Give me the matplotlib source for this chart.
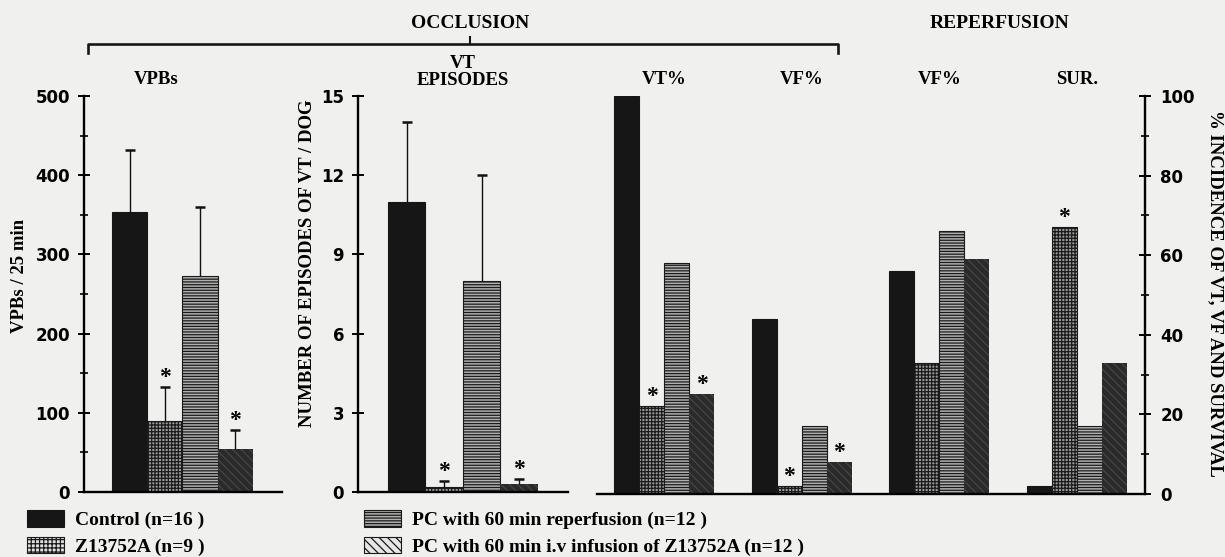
import matplotlib
matplotlib.use("Agg")
import matplotlib.pyplot as plt
import numpy as np
from matplotlib.patches import Patch
from matplotlib.lines import Line2D
from matplotlib.ticker import MultipleLocator
import matplotlib.transforms as mtransforms

# treatment groups
treatments = ["Control (n=16 )", "Z13752A (n=9 )",
              "PC with 60 min reperfusion (n=12 )",
              "PC with 60 min i.v infusion of Z13752A (n=12 )"]

# occlusion: ventricular premature beats per 25 min (mean, sem)
vpb_mean = [353, 90, 273, 54]
vpb_sem = [79, 42, 87, 24]
vpb_sig = [False, True, False, True]

# occlusion: VT episodes per dog (mean, sem)
vt_ep_mean = [11.0, 0.2, 8.0, 0.3]
vt_ep_sem = [3.0, 0.2, 4.0, 0.2]
vt_ep_sig = [False, True, False, True]

# % incidence: VT%, VF% (occlusion), VF% (reperfusion), survival
incidence_labels = ["VT%", "VF%", "VF%", "SUR."]
inc_control = [100, 44, 56, 2]
inc_z13752a = [22, 2, 33, 67]
inc_pc_rep = [58, 17, 66, 17]
inc_pc_inf = [25, 8, 59, 33]
inc_sig = [[False, True, False, True],
           [False, True, False, True],
           [False, False, False, False],
           [False, True, False, False]]

SERIF = "Liberation Serif"
PAPER = "#f0f0ee"
INK = "#161616"

plt.rcParams["font.family"] = "DejaVu Sans"
plt.rcParams["font.weight"] = "bold"
plt.rcParams["hatch.linewidth"] = 0.9
plt.rcParams["axes.linewidth"] = 1.7

styles = [
    dict(facecolor=INK, edgecolor=INK, hatch=None, linewidth=0.8),
    dict(facecolor="#9a9a9a", edgecolor="#1a1a1a", hatch="+++++", linewidth=0.8),
    dict(facecolor="#b0b0b0", edgecolor="#1a1a1a", hatch="------", linewidth=0.8),
    dict(facecolor="#2a2a2a", edgecolor="#454545", hatch="\\\\\\\\", linewidth=0.0),
]
# the legend key for the infusion group shows its diagonal shading plainly
legend_styles = [
    styles[0],
    dict(facecolor="#e0e0e0", edgecolor="#1a1a1a", hatch="++++", linewidth=0.8),
    dict(facecolor="#b0b0b0", edgecolor="#1a1a1a", hatch="------", linewidth=0.8),
    dict(facecolor="#e6e6e6", edgecolor="#1a1a1a", hatch="\\\\\\\\", linewidth=0.8),
]

fig = plt.figure(figsize=(12.25, 5.57), dpi=100, facecolor=PAPER)

ax1 = fig.add_axes([0.06857, 0.11670, 0.16163, 0.71095])
ax2 = fig.add_axes([0.29224, 0.11670, 0.17143, 0.71095])
ax3 = fig.add_axes([0.48735, 0.11311, 0.44735, 0.71454])
for ax in (ax1, ax2, ax3):
    ax.set_facecolor("none")
    ax.spines["top"].set_visible(False)


def star(ax, x, y):
    ax.annotate("*", (x, y), xytext=(0, 3), textcoords="offset points",
                ha="center", va="baseline", fontsize=17,
                family=SERIF, fontweight="bold")


def mean_panel(ax, means, sems, sig):
    x = np.arange(len(means))
    tops = np.add(means, sems)
    for i in x:
        ax.bar(i, means[i], width=1.0, **styles[i])
    # upper error bars only
    ax.vlines(x, means, tops, color="#111111", lw=1.0, zorder=3)
    ax.plot(x, tops, ls="none", marker="_", ms=7.5, mew=1.8, color="#111111",
            zorder=3)
    for i in x:
        if sig[i]:
            star(ax, i, tops[i])
    ax.spines["right"].set_visible(False)
    ax.tick_params(axis="y", direction="inout", length=8, width=1.4,
                   labelsize=12, pad=6)
    ax.tick_params(axis="y", which="minor", direction="inout", length=6, width=1.2)
    ax.set_xticks([])


# VPBs panel
mean_panel(ax1, vpb_mean, vpb_sem, vpb_sig)
ax1.set_xlim(-1.29, 4.32)
ax1.set_ylim(0, 500)
ax1.yaxis.set_major_locator(MultipleLocator(100))
ax1.yaxis.set_minor_locator(MultipleLocator(50))

# VT episodes panel
mean_panel(ax2, vt_ep_mean, vt_ep_sem, vt_ep_sig)
ax2.set_xlim(-1.3, 4.3)
ax2.set_ylim(0, 15)
ax2.yaxis.set_major_locator(MultipleLocator(3))

# incidence panel
incidence = [inc_control, inc_z13752a, inc_pc_rep, inc_pc_inf]
centers = np.arange(len(incidence_labels)) * 5.5
for j in range(4):
    xs = centers + (j - 1.5)
    ax3.bar(xs, incidence[j], width=1.0, **styles[j])
    for g in range(len(incidence_labels)):
        if inc_sig[g][j]:
            star(ax3, xs[g], incidence[j][g])
ax3.set_xlim(-2.68, 19.22)
ax3.set_ylim(0, 100)
ax3.spines["left"].set_visible(False)
ax3.yaxis.tick_right()
ax3.yaxis.set_major_locator(MultipleLocator(20))
ax3.yaxis.set_minor_locator(MultipleLocator(10))
ax3.tick_params(axis="y", direction="inout", length=8, width=1.4,
                labelsize=12, pad=7)
ax3.tick_params(axis="y", which="minor", direction="inout", length=6, width=1.2)
ax3.set_xticks([])

# panel titles
title_y = 1 - 80 / 557
tkw = dict(ha="center", va="center", fontsize=13.5, family=SERIF,
           fontweight="bold")
tr1 = mtransforms.blended_transform_factory(ax1.transData, fig.transFigure)
ax1.text(0.75, title_y, "VPBs", transform=tr1, **tkw)
tr2 = mtransforms.blended_transform_factory(ax2.transData, fig.transFigure)
ax2.text(1.5, 1 - 72 / 557, "VT\nEPISODES", transform=tr2, linespacing=1.05,
         **tkw)
tr3 = mtransforms.blended_transform_factory(ax3.transData, fig.transFigure)
for g, name in enumerate(incidence_labels):
    ax3.text(centers[g], title_y, name, transform=tr3, **tkw)

# axis labels
lkw = dict(ha="center", va="center", fontsize=13.5, family=SERIF,
           fontweight="bold")
fig.text(20 / 1225, 1 - 276 / 557, "VPBs / 25 min", rotation=90, **lkw)
fig.text(308 / 1225, 1 - 263 / 557, "NUMBER OF EPISODES OF VT / DOG",
         rotation=90, **lkw)
fig.text(1215 / 1225, 1 - 293 / 557, "% INCIDENCE OF VT, VF AND SURVIVAL",
         rotation=-90, **lkw)

# occlusion bracket and phase headings
bx0, bx1, bxm = 88 / 1225, 838 / 1225, 470 / 1225
by, bdrop, bup = 1 - 44 / 557, 1 - 53 / 557, 1 - 37 / 557
fig.add_artist(Line2D([bx0, bx0, bx1, bx1], [bdrop, by, by, bdrop],
                      color=INK, lw=1.9, transform=fig.transFigure))
fig.add_artist(Line2D([bxm, bxm], [by, bup], color=INK, lw=1.5,
                      transform=fig.transFigure))
fig.text(bxm, 1 - 24 / 557, "OCCLUSION", ha="center", va="center",
         fontsize=14, family=SERIF, fontweight="bold")
fig.text(1000 / 1225, 1 - 24 / 557, "REPERFUSION", ha="center", va="center",
         fontsize=14, family=SERIF, fontweight="bold")

# legend in two columns
handles = [Patch(**s) for s in legend_styles]
leg_kw = dict(frameon=False, loc="upper left", borderpad=0, borderaxespad=0,
              handlelength=1.9, handleheight=0.95, handletextpad=0.55,
              labelspacing=0.38, prop=dict(family=SERIF, weight="bold", size=14))
fig.legend(handles[:2], treatments[:2],
           bbox_to_anchor=(27 / 1225, 1 - 510 / 557), **leg_kw)
fig.legend(handles[2:], treatments[2:],
           bbox_to_anchor=(364 / 1225, 1 - 510 / 557), **leg_kw)

fig.savefig("out.png", dpi=100, facecolor=PAPER)
